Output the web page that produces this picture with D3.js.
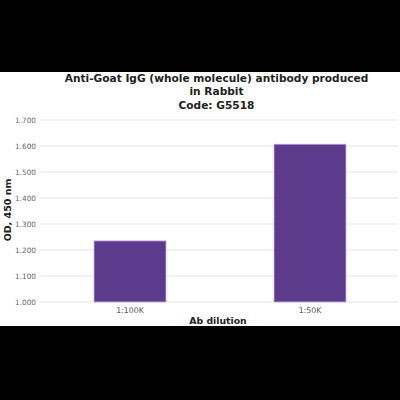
<!DOCTYPE html>
<html><head><meta charset="utf-8">
<script src="https://cdn.jsdelivr.net/npm/d3@7"></script>
<style>html,body{margin:0;padding:0;background:#000;}svg{display:block;}</style>
</head><body>
<svg id="c" width="400" height="400"></svg>
<script>
const categories = ["1:100K", "1:50K"];
const values = [1.235, 1.607];
const yTicks = [1.0, 1.1, 1.2, 1.3, 1.4, 1.5, 1.6, 1.7];
const titleLines = ["Anti-Goat IgG (whole molecule) antibody produced", "in Rabbit", "Code: G5518"];
const xTitle = "Ab dilution";
const yTitle = "OD, 450 nm";

const svg = d3.select("#c");
svg.append("rect").attr("x",0).attr("y",0).attr("width",400).attr("height",400).attr("fill","#000");
svg.append("rect").attr("x",0).attr("y",72).attr("width",400).attr("height",254).attr("fill","#fff");

const x = d3.scaleBand().domain(categories).range([40,400]).paddingInner(0.6).paddingOuter(0.3);
const y = d3.scaleLinear().domain([1.0,1.7]).range([302,120]);

const font = "DejaVu Sans, Verdana, sans-serif";

svg.append("g").selectAll("line").data(yTicks).join("line")
  .attr("x1",40).attr("x2",398)
  .attr("y1",d=>y(d)).attr("y2",d=>y(d))
  .attr("stroke","#e3e3e3").attr("stroke-width",1.2);

svg.append("g").selectAll("text").data(yTicks).join("text")
  .attr("x",36).attr("y",d=>y(d)+2.6)
  .attr("text-anchor","end").attr("font-family",font).attr("font-size",7.3).attr("fill","#666")
  .text(d=>d3.format(".3f")(d));

svg.append("g").selectAll("rect").data(values).join("rect")
  .attr("x",(d,i)=>x(categories[i])).attr("width",x.bandwidth())
  .attr("y",d=>y(d)).attr("height",d=>y(1.0)-y(d))
  .attr("fill","#5c3a8c").attr("stroke","#c8b2e2").attr("stroke-width",0.8);

svg.append("g").selectAll("text").data(categories).join("text")
  .attr("x",d=>x(d)+x.bandwidth()/2).attr("y",312.5)
  .attr("text-anchor","middle").attr("font-family",font).attr("font-size",7.8).attr("fill","#555")
  .text(d=>d);

svg.append("text").attr("x",218).attr("y",323.5).attr("text-anchor","middle")
  .attr("font-family",font).attr("font-size",9.3).attr("font-weight","bold").attr("fill","#222").text(xTitle);

svg.append("text").attr("transform","translate(10.5,210) rotate(-90)").attr("text-anchor","middle")
  .attr("font-family",font).attr("font-size",9.5).attr("font-weight","bold").attr("fill","#222").text(yTitle);

svg.append("g").selectAll("text").data(titleLines).join("text")
  .attr("x",216.5).attr("y",(d,i)=>82+i*13.3).attr("text-anchor","middle")
  .attr("font-family",font).attr("font-size",10.6).attr("font-weight","bold").attr("fill","#222")
  .text(d=>d);
</script>
</body></html>
